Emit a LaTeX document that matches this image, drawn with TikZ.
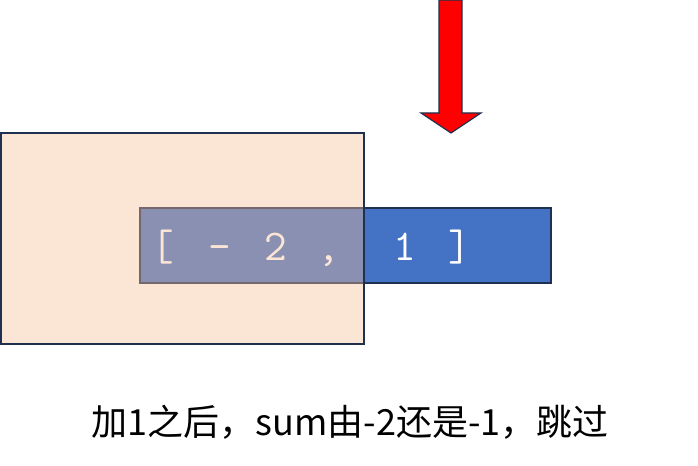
\documentclass[tikz,border=0pt]{standalone}
\usepackage{fontspec}
\newfontfamily\cjk{Noto Sans CJK SC}
\definecolor{peach}{RGB}{245,190,152}
\definecolor{navy}{HTML}{1F3050}
\definecolor{boxblue}{HTML}{4472C4}

\begin{document}
\begin{tikzpicture}[x=0.75pt,y=-0.75pt,inner sep=0pt]
    \tikzstyle{frame}=[rectangle,draw=navy,line width=1.5pt]
    \fill[white] (0,0) rectangle (698,466);
    \useasboundingbox (0,0) rectangle (698,466);

    % array cells
    \node[frame,fill=boxblue,minimum width=308.25pt,minimum height=56.25pt] (arr) at (345.5,245.5) {};
    \node[anchor=base west,text=white,font=\ttfamily\fontsize{33}{33}\selectfont] (vals) at (151.5,260)
        {[\hspace{25.4pt}-\hspace{25.4pt}2\hspace{22.4pt},\hspace{40.4pt}1\hspace{23.9pt}]};

    % sliding window
    \node[frame,fill=peach,fill opacity=0.4,draw opacity=1,minimum width=272.25pt,minimum height=158.25pt] (win) at (182.5,238.5) {};

    % pointer
    \draw[fill=red,draw=navy,line width=0.9pt,line join=miter]
        (439,0) -- (462,0) -- (462,113) -- (481,113) -- (451,133) -- (421,113) -- (439,113) -- cycle;

    \node[font=\cjk\fontsize{27}{27}\selectfont] (cap) at (350,422) {加1之后，sum由-2还是-1，跳过};
\end{tikzpicture}
\end{document}
